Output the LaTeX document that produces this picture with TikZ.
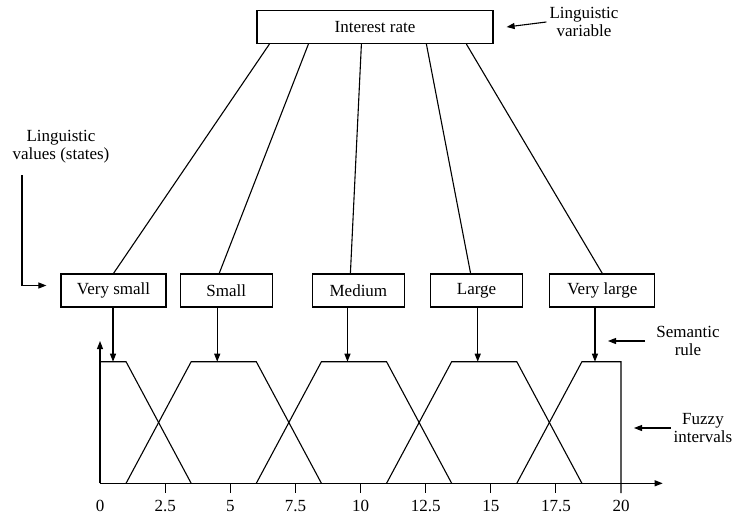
\documentclass[tikz,border=0pt]{standalone}
\usepackage{fontspec}
\setmainfont{Liberation Serif}
\usetikzlibrary{arrows.meta,positioning}

\tikzset{
  caja/.style={draw, line width=1.2pt, minimum height=33pt, inner sep=0pt,
    font=\fontsize{17}{18}\selectfont},
  flecha/.style={line width=1.1pt, -{Triangle[length=8pt,width=6pt]}},
  linea/.style={line width=1.1pt},
  etiqueta/.style={align=center, inner sep=3pt, font=\fontsize{17}{18}\selectfont}
}

\begin{document}
\begin{tikzpicture}[x=1pt, y=-1pt]
		
		% Marco de la figura
		\useasboundingbox (0,0) rectangle (733,517);
		
		% Variable linguistica (caja superior) con su etiqueta
		\node[caja, minimum width=236pt] (ir) at (375,27) {Interest rate};
		\node[etiqueta] (lvar) at (584,22) {Linguistic\\variable};
		\draw[flecha] (lvar.west) -- ([xshift=13pt]ir.east);
		
		% Valores linguisticos (fila de cajas)
		\node[caja, minimum width=105pt] (vs) at (113.5,290.5) {Very small};
		\node[caja, minimum width=92pt, right=13pt of vs] (sm) {Small};
		\node[caja, minimum width=92pt, right=39pt of sm] (md) {Medium};
		\node[caja, minimum width=92pt, right=25pt of md] (lg) {Large};
		\node[caja, minimum width=105pt, right=26pt of lg] (vl) {Very large};
		
		% Lineas desde la variable hasta cada valor
		\draw[linea] ([xshift=13pt]ir.south west) -- (vs.north);
		\draw[linea] ([xshift=52pt]ir.south west) -- ([xshift=-7pt]sm.north);
		\draw[linea] ([xshift=105pt]ir.south west) -- ([xshift=-8pt]md.north);
		\draw[linea] ([xshift=170pt]ir.south west) -- ([xshift=-6pt]lg.north);
		\draw[linea] ([xshift=210pt]ir.south west) -- (vl.north);
		
		% Etiqueta de los valores con flecha en codo
		\node[etiqueta] (lval) at (61,147) {Linguistic\\values (states)};
		\coordinate (lvalini) at (22,175);
		\draw[flecha] (lvalini) |- ([xshift=-14pt,yshift=5pt]vs.west);
		
		% Intervalos difusos (funciones trapezoidales)
		\begin{scope}[shift={(100,483.3)}, x=26.05pt, y=121.6pt]
			% Ejes
			\coordinate (origen) at (0,0);
			\coordinate (ytope) at (0,1.17);
			\coordinate (xtope) at (21.6,0);
			\draw[flecha] (origen) -- (ytope);
			\draw[flecha] (origen) -- (xtope);
			
			% Marcas y numeros del eje x
			\foreach \v in {2.5,5,7.5,10,12.5,15,17.5}
				\draw[linea] (\v,0) -- (\v,-0.08);
			\foreach \v [count=\i] in {0,2.5,5,7.5,10,12.5,15,17.5,20}
				\node[etiqueta] (num\i) at (\v,-0.19) {\v};
			
			% Trapecios
			\draw[linea] (0,1) -- (1,1) -- (3.5,0);
			\foreach \a in {1,6,11}
				\draw[linea] (\a,0) -- (\a+2.5,1) -- (\a+5,1) -- (\a+7.5,0);
			\draw[linea] (16,0) -- (18.5,1) -- (20,1) -- (20,-0.08);
			
			% Puntos de la regla semantica
			\coordinate (p1) at (0.5,1);
			\coordinate (p2) at (4.5,1);
			\coordinate (p3) at (9.5,1);
			\coordinate (p4) at (14.5,1);
			\coordinate (p5) at (19,1);
		\end{scope}
		
		% Flechas desde cada valor hasta su trapecio
		\foreach \n/\p in {vs/p1, sm/p2, md/p3, lg/p4, vl/p5}
			\draw[flecha] (\n.south -| \p) -- (\p);
		
		% Etiquetas de la derecha
		\node[etiqueta] (sr) at (688,341) {Semantic\\rule};
		\coordinate (srfin) at (608,341);
		\draw[flecha] ([xshift=-8pt]sr.west) -- (srfin);
		
		\node[etiqueta] (fi) at (703,428) {Fuzzy\\intervals};
		\coordinate (fifin) at (634,428);
		\draw[flecha] (fi.west) -- (fifin);
		
	\end{tikzpicture}
\end{document}
